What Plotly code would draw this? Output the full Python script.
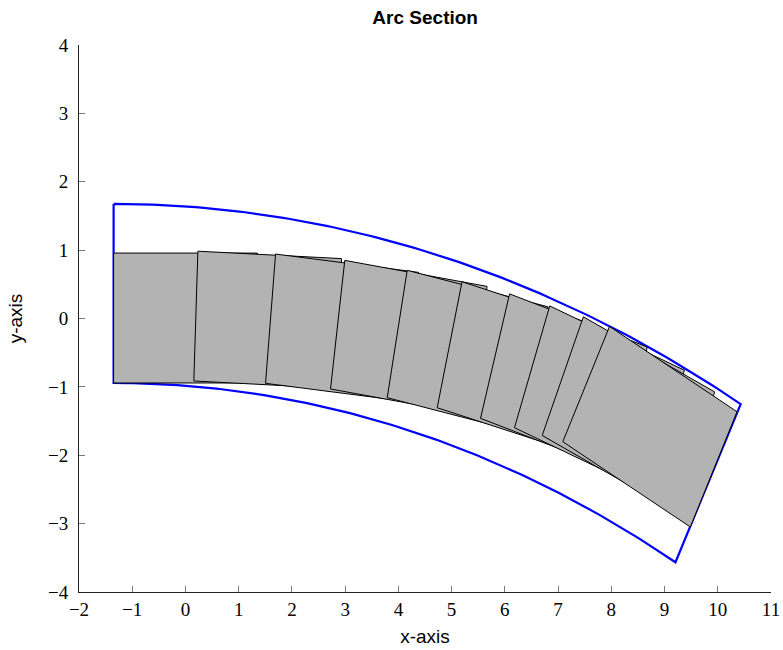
import numpy as np
import plotly.graph_objects as go

# ---- data (data units) ----
# annular arc section: centre, inner/outer radius, angular span (deg, clockwise from vertical)
arc_center_x = -1.35
arc_center_y = -23.5
arc_r_inner = 22.557
arc_r_outer = 25.175
arc_span_deg = 27.9

# blocks: bottom-left corner and clockwise rotation (deg)
block_x = [-1.35, 0.157, 1.504, 2.725, 3.790, 4.729, 5.543, 6.181, 6.702, 7.089]
block_y = [-0.943, -0.914, -0.948, -1.031, -1.158, -1.305, -1.460, -1.597, -1.711, -1.802]
block_angle = [0.0, 2.3, 5.7, 8.1, 11.4, 14.2, 16.7, 20.4, 24.0, 27.5]
block_w = 2.7
block_h = 1.9

x_ticks = list(range(-2, 12))
y_ticks = list(range(-4, 5))

fig = go.Figure()

# ---- arc outline ----
phi = np.radians(np.linspace(0, arc_span_deg, 120))
ox = arc_center_x + arc_r_outer * np.sin(phi)
oy = arc_center_y + arc_r_outer * np.cos(phi)
ix = arc_center_x + arc_r_inner * np.sin(phi[::-1])
iy = arc_center_y + arc_r_inner * np.cos(phi[::-1])
px = np.concatenate([ox, ix, ox[:1]])
py = np.concatenate([oy, iy, oy[:1]])
fig.add_trace(go.Scatter(x=px, y=py, mode="lines",
                         line=dict(color="#0000ff", width=2.2),
                         hoverinfo="skip", showlegend=False))

# ---- blocks ----
for bx, by, ang in zip(block_x, block_y, block_angle):
    t = np.radians(ang)
    u = np.array([np.cos(t), -np.sin(t)])
    v = np.array([np.sin(t), np.cos(t)])
    p0 = np.array([bx, by])
    corners = [p0, p0 + block_w * u, p0 + block_w * u + block_h * v, p0 + block_h * v, p0]
    cx = [c[0] for c in corners]
    cy = [c[1] for c in corners]
    fig.add_trace(go.Scatter(x=cx, y=cy, mode="lines", fill="toself",
                             fillcolor="#b3b3b3",
                             line=dict(color="#000000", width=1),
                             hoverinfo="skip", showlegend=False))

tickfont = dict(family="Liberation Serif, DejaVu Serif, serif", size=19, color="black")
labfont = dict(family="Liberation Sans, Arial, sans-serif", size=19, color="black")
fig.update_layout(
    width=783, height=650,
    margin=dict(l=79, r=12, t=45, b=58),
    paper_bgcolor="white", plot_bgcolor="white",
    title=dict(text="<b>Arc Section</b>", x=0.543, xanchor="center",
               y=1 - 17 / 650, yanchor="middle",
               font=dict(family="Liberation Sans, Arial, sans-serif", size=19, color="black")),
    xaxis=dict(range=[-2, 11], tickvals=x_ticks, ticks="inside", ticklen=6,
               tickcolor="#777", tickwidth=1, showline=True, linecolor="#222",
               linewidth=1, mirror=False, showgrid=False, zeroline=False,
               tickfont=tickfont, automargin=False, ticklabelstandoff=0,
               title=dict(text="x-axis", standoff=10, font=labfont)),
    yaxis=dict(range=[-4, 4], tickvals=y_ticks, ticks="inside", ticklen=6,
               tickcolor="#777", tickwidth=1, showline=True, linecolor="#222",
               linewidth=1, mirror=False, showgrid=False, zeroline=False,
               tickfont=tickfont, automargin=False, ticklabelstandoff=6,
               title=dict(text="y-axis", standoff=20, font=labfont)),
)

fig.write_html("out.html")
